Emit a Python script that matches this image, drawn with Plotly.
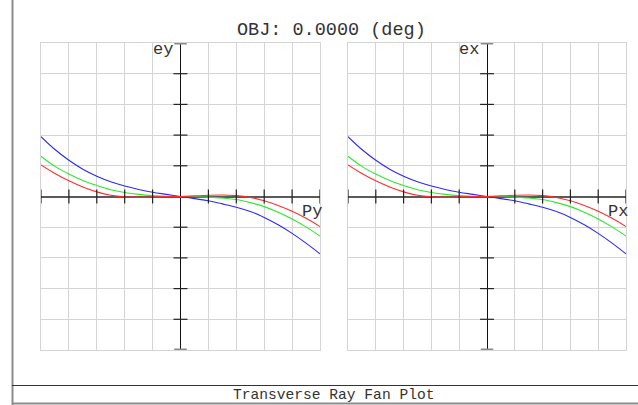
import plotly.graph_objects as go

# ---------------- data (units: grid divisions) ----------------
PUPIL = [-1.0, -0.9, -0.8, -0.7, -0.6, -0.5, -0.4, -0.3, -0.2, -0.1, 0.0,
         0.1, 0.2, 0.3, 0.4, 0.5, 0.6, 0.7, 0.8, 0.9, 1.0]

EY_BLUE = [1.95, 1.53, 1.18, 0.89, 0.66, 0.48, 0.34, 0.23, 0.14, 0.07, 0.0,
           -0.07, -0.14, -0.24, -0.35, -0.49, -0.68, -0.92, -1.20, -1.52, -1.87]
EY_GREEN = [1.31, 0.98, 0.73, 0.52, 0.36, 0.22, 0.13, 0.07, 0.03, 0.01, 0.0,
            0.0, -0.02, -0.05, -0.10, -0.20, -0.33, -0.51, -0.73, -0.99, -1.29]
EY_RED = [1.03, 0.75, 0.51, 0.31, 0.15, 0.04, -0.01, -0.02, -0.01, 0.0, 0.0,
          0.02, 0.04, 0.05, 0.03, -0.03, -0.14, -0.29, -0.48, -0.71, -0.98]

EX_BLUE = [1.95, 1.53, 1.18, 0.89, 0.66, 0.48, 0.34, 0.23, 0.14, 0.07, 0.0,
           -0.07, -0.14, -0.24, -0.35, -0.49, -0.68, -0.92, -1.20, -1.52, -1.87]
EX_GREEN = [1.31, 0.98, 0.73, 0.52, 0.36, 0.22, 0.13, 0.07, 0.03, 0.01, 0.0,
            0.0, -0.02, -0.05, -0.10, -0.20, -0.33, -0.51, -0.73, -0.99, -1.29]
EX_RED = [1.03, 0.75, 0.51, 0.31, 0.15, 0.04, -0.01, -0.02, -0.01, 0.0, 0.0,
          0.02, 0.04, 0.05, 0.03, -0.03, -0.14, -0.29, -0.48, -0.71, -0.98]

X_TICKS = [-1.0, -0.8, -0.6, -0.4, -0.2, 0.2, 0.4, 0.6, 0.8, 1.0]
Y_TICKS = [-4, -3, -2, -1, 1, 2, 3, 4]
Y_ENDS = [-5, 5]

TITLE = "OBJ: 0.0000 (deg)"
CAPTION = "Transverse Ray Fan Plot"

# ---------------- layout helpers ----------------
W, H = 638, 405
def PX(x):
    return x / W
def PY(y):
    return 1 - y / H

MONO = "Liberation Mono, Courier New, monospace"
GRID = "#d4d4d4"

fig = go.Figure()

panels = [
    ("x", "y", EY_RED, EY_GREEN, EY_BLUE),
    ("x2", "y2", EX_RED, EX_GREEN, EX_BLUE),
]
for xa, ya, r, g, b in panels:
    for vals, col in ((b, "#2a2aff"), (g, "#2ee82e"), (r, "#ff2e2e")):
        fig.add_trace(go.Scatter(x=PUPIL, y=vals, mode="lines", xaxis=xa, yaxis=ya,
                                 line=dict(color=col, width=1.1, shape="spline", smoothing=1.0),
                                 showlegend=False, hoverinfo="skip"))

axis_common = dict(showticklabels=False, ticks="", showgrid=True, gridcolor=GRID,
                   gridwidth=1, showline=True, linecolor=GRID, linewidth=1, mirror=True,
                   fixedrange=True)
xdom1 = [PX(41), PX(320)]
xdom2 = [PX(348), PX(626)]
ydom = [PY(350), PY(43)]

fig.update_layout(
    width=W, height=H, autosize=False,
    margin=dict(l=0, r=0, t=0, b=0),
    paper_bgcolor="white", plot_bgcolor="white",
    xaxis=dict(domain=xdom1, range=[-1, 1], tick0=-1, dtick=0.2, anchor="y",
               zeroline=True, zerolinecolor="#111111", zerolinewidth=1, **axis_common),
    yaxis=dict(domain=ydom, range=[-5, 5], tick0=-5, dtick=1, anchor="x",
               zeroline=True, zerolinecolor="#5a5a5a", zerolinewidth=2, **axis_common),
    xaxis2=dict(domain=xdom2, range=[-1, 1], tick0=-1, dtick=0.2, anchor="y2",
                zeroline=True, zerolinecolor="#111111", zerolinewidth=1, **axis_common),
    yaxis2=dict(domain=ydom, range=[-5, 5], tick0=-5, dtick=1, anchor="x2",
                zeroline=True, zerolinecolor="#5a5a5a", zerolinewidth=2, **axis_common),
)

shapes = []
for xa, ya in (("x", "y"), ("x2", "y2")):
    for t in X_TICKS:
        shapes.append(dict(type="line", xref=xa, yref=ya, x0=t, x1=t, y0=-0.23, y1=0.23,
                           line=dict(color="#222222", width=1.2)))
    for t in Y_TICKS:
        shapes.append(dict(type="line", xref=xa, yref=ya, x0=-0.05, x1=0.05, y0=t, y1=t,
                           line=dict(color="#222222", width=1.2)))
    for t in Y_ENDS:
        shapes.append(dict(type="line", xref=xa, yref=ya, x0=-0.045, x1=0.045, y0=t, y1=t,
                           line=dict(color="#8a8a8a", width=3)))

# outer frame
shapes.append(dict(type="line", xref="paper", yref="paper", x0=PX(12.5), x1=PX(12.5),
                   y0=0, y1=1, line=dict(color="#8c8c8c", width=2)))
shapes.append(dict(type="line", xref="paper", yref="paper", x0=PX(12), x1=1,
                   y0=PY(385.5), y1=PY(385.5), line=dict(color="#333333", width=1)))
shapes.append(dict(type="line", xref="paper", yref="paper", x0=PX(12), x1=1,
                   y0=PY(403.5), y1=PY(403.5), line=dict(color="#8c8c8c", width=2)))
fig.update_layout(shapes=shapes)

ann = []
def text(s, x, y, size, xanchor="center", color="#333333"):
    ann.append(dict(text=s, x=PX(x), y=PY(y), xref="paper", yref="paper",
                    xanchor=xanchor, yanchor="middle", showarrow=False,
                    font=dict(family=MONO, size=size, color=color)))

text(TITLE, 331, 31, 18.5)
text("ey", 175, 49, 17, xanchor="right")
text("Py", 324, 211, 17, xanchor="right")
text("ex", 481, 49, 17, xanchor="right")
text("Px", 630, 211, 17, xanchor="right")
text(CAPTION, 333, 395, 14.6)
fig.update_layout(annotations=ann)

fig.write_html("out.html", config={"displayModeBar": False},
               post_script="document.body.style.margin='0px';")
